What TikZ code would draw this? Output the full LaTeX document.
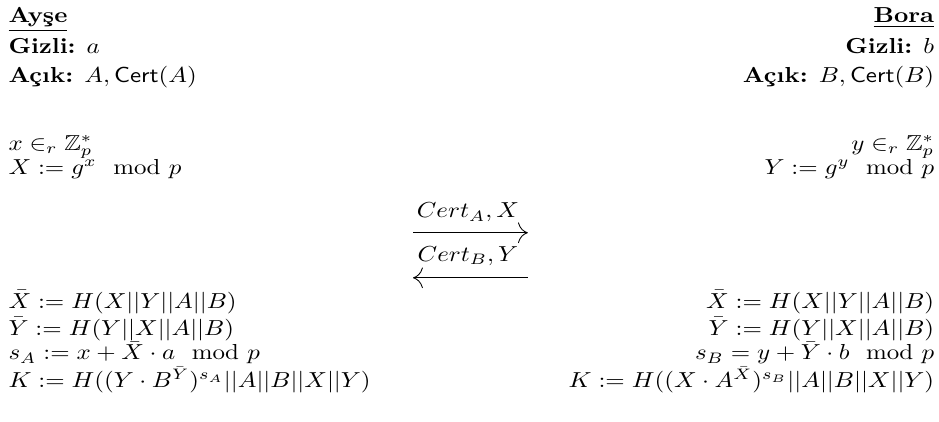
\documentclass[tikz,border=0pt]{standalone}
\usepackage{amsmath,amssymb}
\usepackage{fontspec}
\usetikzlibrary{arrows.meta,positioning}

\begin{document}
\begin{tikzpicture}[
  lefttext/.style={anchor=base west, inner sep=0pt, xscale=1.15},
  righttext/.style={anchor=base east, inner sep=0pt, xscale=1.15},
  msg/.style={anchor=base, inner sep=0pt, xscale=1.15},
  arrow/.style={-{To[length=1.6mm]}, line width=0.4pt}
]
\useasboundingbox (0,0) rectangle (15.21,-6.82);

% Ayse: keys and first step
\node[lefttext] (aname) at (0.13,-0.37) {\underline{\textbf{Ayşe}}};
\node[lefttext] (asec) at (0.13,-0.86) {\textbf{Gizli:} $a$};
\node[lefttext] (apub) at (0.13,-1.33) {\textbf{Açık:} $A, \mathsf{Cert}(A)$};
\node[lefttext] (ax) at (0.13,-2.43) {$x \in_r \mathbb{Z}_p^*$};
\node[lefttext] (aX) at (0.13,-2.83) {$X := g^x \mod p$};

% Bora: keys and first step
\node[righttext] (bname) at (15.14,-0.37) {\underline{\textbf{Bora}}};
\node[righttext] (bsec) at (15.14,-0.86) {\textbf{Gizli:} $b$};
\node[righttext] (bpub) at (15.14,-1.33) {\textbf{Açık:} $B, \mathsf{Cert}(B)$};
\node[righttext] (by) at (15.14,-2.43) {$y \in_r \mathbb{Z}_p^*$};
\node[righttext] (bY) at (15.14,-2.83) {$Y := g^y \mod p$};

% Messages
\node[msg] (m1) at (7.58,-3.53) {$Cert_A, X$};
\coordinate (m1l) at (6.69,-3.77);
\coordinate (m1r) at (8.55,-3.77);
\draw[arrow] (m1l) -- (m1r);
\node[msg] (m2) at (7.58,-4.23) {$Cert_B, Y$};
\coordinate (m2l) at (6.69,-4.50);
\coordinate (m2r) at (8.55,-4.50);
\draw[arrow] (m2r) -- (m2l);

% Key derivation, Ayse
\node[lefttext] (aXb) at (0.13,-4.99) {$\bar{X} := H(X||Y||A||B)$};
\node[lefttext] (aYb) at (0.13,-5.43) {$\bar{Y} := H(Y||X||A||B)$};
\node[lefttext] (as) at (0.13,-5.83) {$s_A := x + \bar{X}\cdot a \mod p$};
\node[lefttext] (aK) at (0.13,-6.28) {$K := H((Y\cdot B^{\bar{Y}})^{s_A}||A||B||X||Y)$};

% Key derivation, Bora
\node[righttext] (bXb) at (15.14,-4.99) {$\bar{X} := H(X||Y||A||B)$};
\node[righttext] (bYb) at (15.14,-5.43) {$\bar{Y} := H(Y||X||A||B)$};
\node[righttext] (bs) at (15.14,-5.83) {$s_B = y + \bar{Y}\cdot b \mod p$};
\node[righttext] (bK) at (15.14,-6.28) {$K := H((X\cdot A^{\bar{X}})^{s_B}||A||B||X||Y)$};

\end{tikzpicture}
\end{document}
